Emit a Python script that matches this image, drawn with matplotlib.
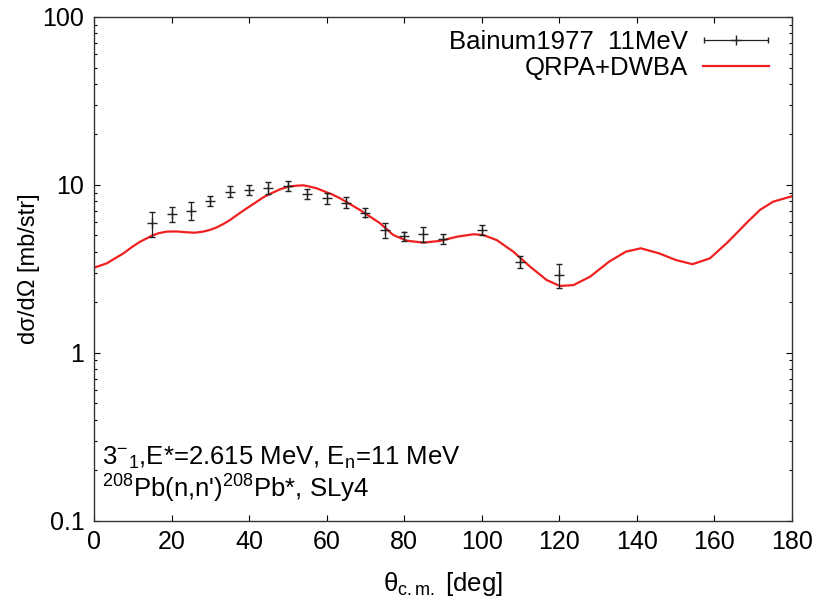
import numpy as np
import matplotlib
matplotlib.use("Agg")
import matplotlib.pyplot as plt
from matplotlib.container import ErrorbarContainer
from matplotlib.legend_handler import HandlerErrorbar

plt.rcParams['font.family'] = ['Liberation Sans', 'DejaVu Sans']
plt.rcParams['mathtext.fontset'] = 'custom'
plt.rcParams['mathtext.rm'] = 'Liberation Sans'
plt.rcParams['mathtext.it'] = 'Liberation Sans:italic'

# Bainum 1977 data (angle, cross section, lower / upper error bar ends)
exp_angle = [15, 20, 25, 30, 35, 40, 45, 50, 55, 60, 65, 70, 75, 80, 85, 90, 100, 110, 120]
exp_xs = [5.91, 6.71, 6.99, 8.02, 9.11, 9.32, 9.62, 9.89, 8.83, 8.32, 7.80, 6.77,
          5.39, 4.96, 5.10, 4.74, 5.39, 3.49, 2.91]
exp_lo = [4.91, 6.04, 6.18, 7.52, 8.51, 8.71, 8.83, 9.24, 8.21, 7.66, 7.25, 6.47,
          4.81, 4.65, 4.59, 4.45, 5.03, 3.19, 2.42]
exp_hi = [6.87, 7.36, 7.88, 8.62, 9.85, 9.99, 10.45, 10.5, 9.45, 8.98, 8.44, 7.25,
          5.91, 5.27, 5.64, 5.08, 5.77, 3.77, 3.38]

# QRPA+DWBA curve
th_angle = [0, 3.3, 5.4, 7.6, 9.7, 11.9, 13.6, 14.9, 16.6, 18.8, 21.3, 23.9, 26.0,
            28.2, 29.9, 31.7, 33.4, 35.1, 37.2, 39.4, 41.6, 43.7, 45.8, 48.0, 50.1,
            52.3, 54.0, 55.7, 57.5, 59.2, 61.3, 63.5, 68.6, 73.8, 77.2, 80.7, 85.0,
            89.3, 93.6, 97.9, 100.4, 103.9, 108.2, 112.5, 116.8, 120.2, 123.7, 128.0,
            132.9, 137.2, 141.1, 145.8, 150.1, 154.4, 158.9, 163.2, 166.6, 168.4,
            171.8, 175.2, 180]
th_xs = [3.21, 3.41, 3.65, 3.91, 4.25, 4.59, 4.80, 4.98, 5.15, 5.27, 5.28, 5.22, 5.19,
         5.27, 5.39, 5.59, 5.85, 6.18, 6.69, 7.25, 7.83, 8.44, 8.92, 9.41, 9.76,
         9.89, 9.94, 9.76, 9.53, 9.19, 8.80, 8.32, 7.09, 5.91, 5.03, 4.65, 4.53,
         4.64, 4.91, 5.08, 5.03, 4.69, 4.00, 3.26, 2.71, 2.50, 2.53, 2.84,
         3.49, 4.00, 4.19, 3.91, 3.57, 3.37, 3.65, 4.49, 5.39, 5.95,
         7.09, 7.94, 8.55]

exp_xs = np.array(exp_xs)
yerr = [exp_xs - np.array(exp_lo), np.array(exp_hi) - exp_xs]

fig = plt.figure(figsize=(8.21, 6.00), dpi=100)
ax = fig.add_axes([0.1145, 0.1322, 0.8498, 0.8395])

ax.errorbar(exp_angle, exp_xs, yerr=yerr, fmt='+', color='#222222', ms=7,
            mew=1.0, elinewidth=0.9, capsize=2.5, capthick=0.9, zorder=3)
ax.plot(th_angle, th_xs, color='#f02020', lw=1.6, label='QRPA+DWBA', zorder=2)

# legend proxy, gnuplot style sample
proxy = ax.errorbar([np.nan], [np.nan], xerr=[1], fmt='+', color='#222222', ms=7,
                    mew=1.0, elinewidth=0.9, capsize=2.5, capthick=0.9,
                    label='Bainum1977  11MeV')
handles, labels = ax.get_legend_handles_labels()
order = [labels.index('Bainum1977  11MeV'), labels.index('QRPA+DWBA')]
ax.legend([handles[i] for i in order], [labels[i] for i in order],
          loc='upper right', bbox_to_anchor=(0.9675, 0.975), frameon=False,
          markerfirst=False, fontsize=18.5, handlelength=2.55, handletextpad=0.6,
          borderpad=0, borderaxespad=0, labelspacing=0.08,
          handler_map={ErrorbarContainer: HandlerErrorbar(xerr_size=1.25)})

ax.set_yscale('log')
ax.set_xlim(0, 180)
ax.set_ylim(0.1, 100)
ax.set_xticks(np.arange(0, 181, 20))
ax.set_yticks([0.1, 1, 10, 100])
ax.set_yticklabels(['0.1', '1', '10', '100'])
ax.tick_params(which='both', direction='in', top=True, right=True, labelsize=18)
ax.tick_params(which='major', length=4, width=0.8, pad=7)
ax.tick_params(which='minor', length=2.2, width=0.8)
ax.tick_params(axis='x', which='minor', bottom=False, top=False)
for s in ax.spines.values():
    s.set_linewidth(1.0)
    s.set_color('#333333')

ax.set_ylabel('dσ/dΩ [mb/str]', fontsize=17)
ax.yaxis.set_label_coords(-0.077, 0.5)
ax.set_xlabel(r'θ$_{\mathrm{c.m.}}$ [deg]', fontsize=18.5)
ax.xaxis.set_label_coords(0.5, -0.098)

ax.text(0.011, 0.1106, r'3$^{-}$$_{1}$,E*=2.615 MeV, E$_{\mathrm{n}}$=11 MeV',
        transform=ax.transAxes, fontsize=18.5, va='baseline')
ax.text(0.011, 0.045, r"$^{208}$Pb(n,n')$^{208}$Pb*, SLy4",
        transform=ax.transAxes, fontsize=18.5, va='baseline')

fig.savefig('out.png', dpi=100)
